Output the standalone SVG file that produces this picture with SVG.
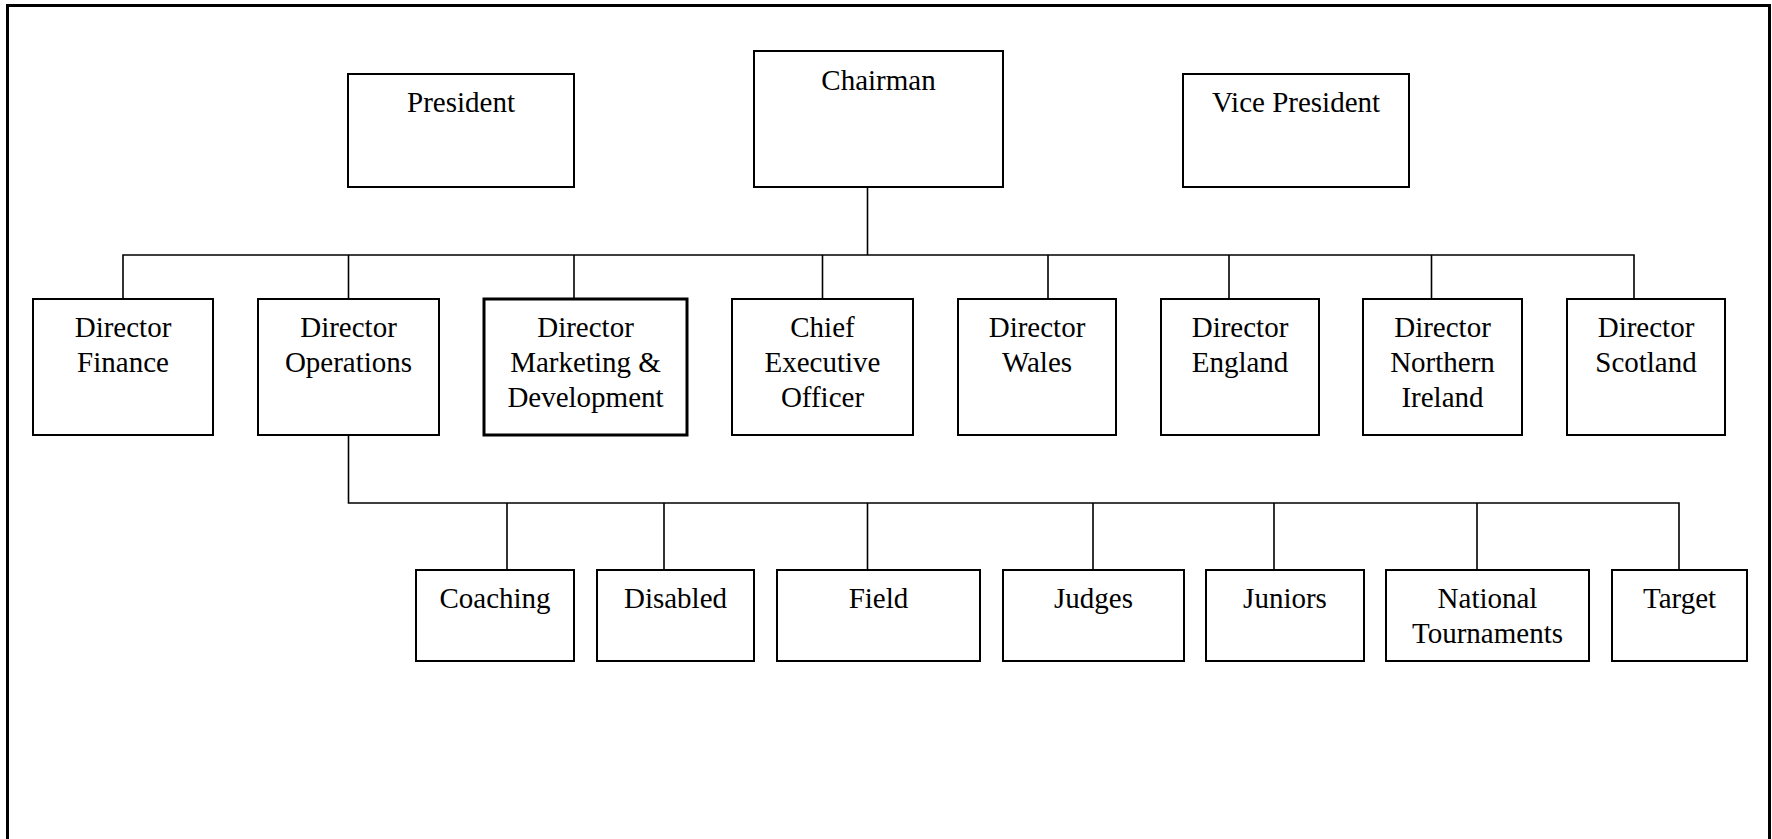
<svg xmlns="http://www.w3.org/2000/svg" width="1772" height="839" viewBox="0 0 1772 839">
<style>
.b{fill:#fff;stroke:#000;stroke-width:2}
.bt{fill:#fff;stroke:#000;stroke-width:3}
.t{font-family:"Liberation Serif","Times New Roman",serif;font-size:29px;fill:#000;text-anchor:middle}
.c{fill:none;stroke:#000;stroke-width:1.6}
</style>
<rect x="0" y="0" width="1772" height="839" fill="#fff"/>
<path d="M7.5,845 V5.5 H1769.5 V845" fill="none" stroke="#000" stroke-width="3"/>
<g id="connectors">
<path class="c" d="M867.5,187 V255"/>
<path class="c" d="M123,299 V255 H1634 V299"/>
<path class="c" d="M348.5,255 V299 M574,255 V299 M822.5,255 V299 M1048,255 V299 M1229,255 V299 M1431.5,255 V299"/>
<path class="c" d="M348.5,435 V503 H1679 V570"/>
<path class="c" d="M507,503 V570 M664,503 V570 M867.5,503 V570 M1093,503 V570 M1274,503 V570 M1477,503 V570"/>
</g>
<g id="president"><rect class="b" x="348" y="74" width="226" height="113"/><text class="t" x="461" y="112">President</text></g>
<g id="chairman"><rect class="b" x="754" y="51" width="249" height="136"/><text class="t" x="878.5" y="90">Chairman</text></g>
<g id="vice-president"><rect class="b" x="1183" y="74" width="226" height="113"/><text class="t" x="1296" y="112">Vice President</text></g>

<g id="dir-finance"><rect class="b" x="33" y="299" width="180" height="136"/><text class="t" x="123" y="337">Director</text><text class="t" x="123" y="372">Finance</text></g>
<g id="dir-operations"><rect class="b" x="258" y="299" width="181" height="136"/><text class="t" x="348.5" y="337">Director</text><text class="t" x="348.5" y="372">Operations</text></g>
<g id="dir-marketing"><rect class="bt" x="484" y="299" width="203" height="136"/><text class="t" x="585.5" y="337">Director</text><text class="t" x="585.5" y="372">Marketing &amp;</text><text class="t" x="585.5" y="407">Development</text></g>
<g id="ceo"><rect class="b" x="732" y="299" width="181" height="136"/><text class="t" x="822.5" y="337">Chief</text><text class="t" x="822.5" y="372">Executive</text><text class="t" x="822.5" y="407">Officer</text></g>
<g id="dir-wales"><rect class="b" x="958" y="299" width="158" height="136"/><text class="t" x="1037" y="337">Director</text><text class="t" x="1037" y="372">Wales</text></g>
<g id="dir-england"><rect class="b" x="1161" y="299" width="158" height="136"/><text class="t" x="1240" y="337">Director</text><text class="t" x="1240" y="372">England</text></g>
<g id="dir-ni"><rect class="b" x="1363" y="299" width="159" height="136"/><text class="t" x="1442.5" y="337">Director</text><text class="t" x="1442.5" y="372">Northern</text><text class="t" x="1442.5" y="407">Ireland</text></g>
<g id="dir-scotland"><rect class="b" x="1567" y="299" width="158" height="136"/><text class="t" x="1646" y="337">Director</text><text class="t" x="1646" y="372">Scotland</text></g>

<g id="coaching"><rect class="b" x="416" y="570" width="158" height="91"/><text class="t" x="495" y="608">Coaching</text></g>
<g id="disabled"><rect class="b" x="597" y="570" width="157" height="91"/><text class="t" x="675.5" y="608">Disabled</text></g>
<g id="field"><rect class="b" x="777" y="570" width="203" height="91"/><text class="t" x="878.5" y="608">Field</text></g>
<g id="judges"><rect class="b" x="1003" y="570" width="181" height="91"/><text class="t" x="1093.5" y="608">Judges</text></g>
<g id="juniors"><rect class="b" x="1206" y="570" width="158" height="91"/><text class="t" x="1285" y="608">Juniors</text></g>
<g id="national-tournaments"><rect class="b" x="1386" y="570" width="203" height="91"/><text class="t" x="1487.5" y="608">National</text><text class="t" x="1487.5" y="643">Tournaments</text></g>
<g id="target"><rect class="b" x="1612" y="570" width="135" height="91"/><text class="t" x="1679.5" y="608">Target</text></g>
</svg>
